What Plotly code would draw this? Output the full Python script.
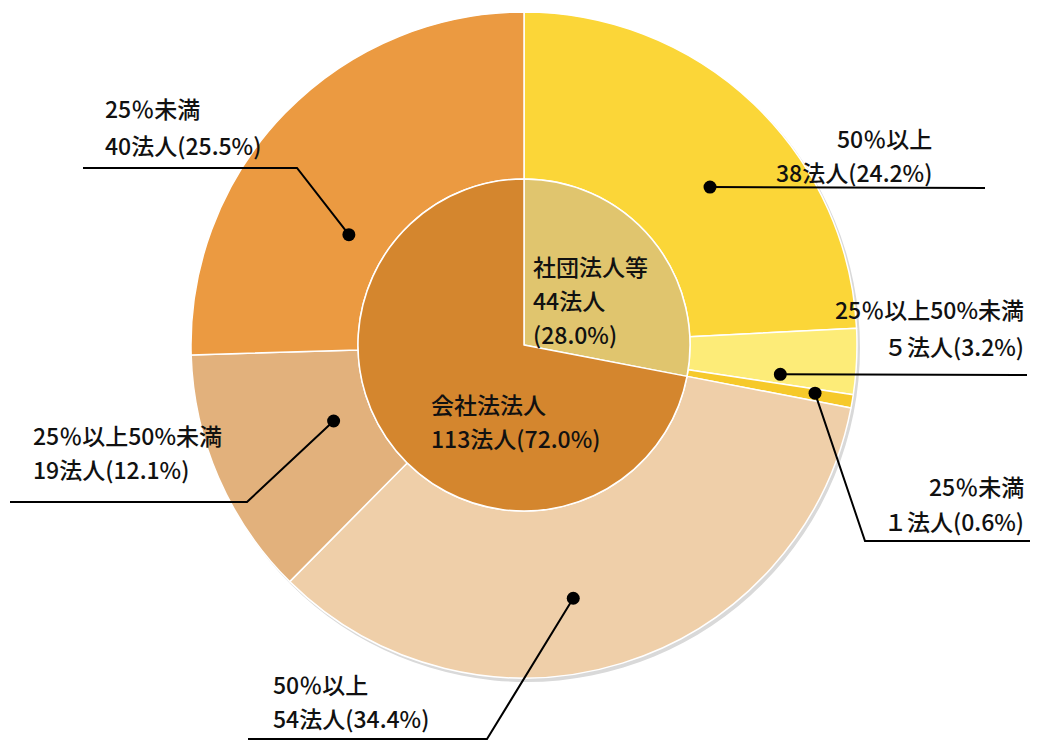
import math
import plotly.graph_objects as go

# ---------------- data ----------------
inner_labels = ["社団法人等", "会社法法人"]
inner_values = [44, 113]
inner_text = [["社団法人等", "44法人", "(28.0%)"], ["会社法法人", "113法人(72.0%)"]]

outer_labels = ["50％以上", "25％以上50%未満", "25％未満",
                "50％以上", "25％以上50%未満", "25％未満"]
outer_parent = ["社団法人等", "社団法人等", "社団法人等",
                "会社法法人", "会社法法人", "会社法法人"]
outer_values = [38, 5, 1, 54, 19, 40]
outer_counts = ["38法人(24.2%)", "５法人(3.2%)", "１法人(0.6%)",
                "54法人(34.4%)", "19法人(12.1%)", "40法人(25.5%)"]

inner_colors = ["#E0C56E", "#D4862E"]
outer_colors = ["#FBD638", "#FDEC78", "#F6C92A", "#EFCFA9", "#E2B17C", "#EB9A41"]

# ---------------- layout geometry ----------------
OFF = 8                      # page body margin
W, H = 1038 - OFF, 742 - OFF
CX, CY = 524, 345
R_OUT, R_IN = 333, 166
FONT = "Noto Sans CJK JP"
FS = 23
FW = 500


def px(x):
    return (x - OFF) / W


def py(y):
    return 1 - (y - OFF) / H


# position of the dot inside each outer slice: (fraction along slice, radius px)
dot_pos = [(0.57, 244), (0.82, 258), (0.35, 295), (0.55, 258), (0.54, 205), (0.37, 207)]
# leader line path after the dot (pixel positions), label anchor side, label x, line ys
leaders = [
    ([(985, 188)], "right", 933, (138, 172)),
    ([(1027, 375)], "right", 1025, (309, 346)),
    ([(865, 541), (1038, 541)], "right", 1025, (486, 521)),
    ([(487, 739), (248, 739)], "left", 272, (684, 718)),
    ([(247, 502), (10, 502)], "left", 32, (435, 469)),
    ([(297, 168), (83, 168)], "left", 104, (108, 145)),
]

fig = go.Figure()

fig.add_trace(go.Pie(
    labels=[f"{p}-{l}-{i}" for i, (p, l) in enumerate(zip(outer_parent, outer_labels))],
    values=outer_values,
    marker=dict(colors=outer_colors, line=dict(color="white", width=1.5)),
    hole=R_IN / R_OUT, sort=False, direction="clockwise", rotation=0,
    textinfo="none", hoverinfo="skip", showlegend=False,
    domain=dict(x=[px(CX - R_OUT), px(CX + R_OUT)], y=[py(CY + R_OUT), py(CY - R_OUT)]),
))
fig.add_trace(go.Pie(
    labels=inner_labels, values=inner_values,
    marker=dict(colors=inner_colors, line=dict(color="white", width=1.5)),
    sort=False, direction="clockwise", rotation=0,
    textinfo="none", hoverinfo="skip", showlegend=False,
    domain=dict(x=[px(CX - R_IN), px(CX + R_IN)], y=[py(CY + R_IN), py(CY - R_IN)]),
))

shapes = []
annotations = []
# soft shadow behind the ring
shapes.append(dict(type="circle", xref="paper", yref="paper", layer="below",
                   x0=px(CX - R_OUT + 2), x1=px(CX + R_OUT + 3),
                   y0=py(CY + R_OUT + 4), y1=py(CY - R_OUT + 2),
                   fillcolor="#d9d9d9", line=dict(width=0)))

font = dict(family=FONT, size=FS, weight=FW, color="#111")


def add_text(txt, x, y, side):
    annotations.append(dict(text=txt, x=px(x), y=py(y), xref="paper", yref="paper",
                            xanchor=side, yanchor="middle", showarrow=False,
                            borderpad=0, font=font))


total = sum(outer_values)
start = 0.0
for i, v in enumerate(outer_values):
    span = v / total * 360
    frac, r = dot_pos[i]
    ang = math.radians(start + frac * span)
    dx, dy = CX + r * math.sin(ang), CY - r * math.cos(ang)
    start += span
    pts = [(dx, dy)] + leaders[i][0]
    path = "M " + " L ".join(f"{px(x)},{py(y)}" for x, y in pts)
    shapes.append(dict(type="path", xref="paper", yref="paper", path=path,
                       line=dict(color="black", width=2)))
    shapes.append(dict(type="circle", xref="paper", yref="paper",
                       x0=px(dx - 6.5), x1=px(dx + 6.5), y0=py(dy + 6.5), y1=py(dy - 6.5),
                       fillcolor="black", line=dict(color="black", width=0)))
    side, tx, (y1, y2) = leaders[i][1], leaders[i][2], leaders[i][3]
    add_text(outer_labels[i], tx, y1, side)
    add_text(outer_counts[i], tx, y2, side)

# inner labels
for j, ty in enumerate((266, 300, 334)):
    add_text(inner_text[0][j], 532, ty, "left")
for j, ty in enumerate((404, 438)):
    add_text(inner_text[1][j], 430, ty, "left")

fig.update_layout(
    width=W, height=H, margin=dict(l=0, r=0, t=0, b=0),
    paper_bgcolor="white", plot_bgcolor="white",
    shapes=shapes, annotations=annotations,
)

fig.write_html("out.html")
